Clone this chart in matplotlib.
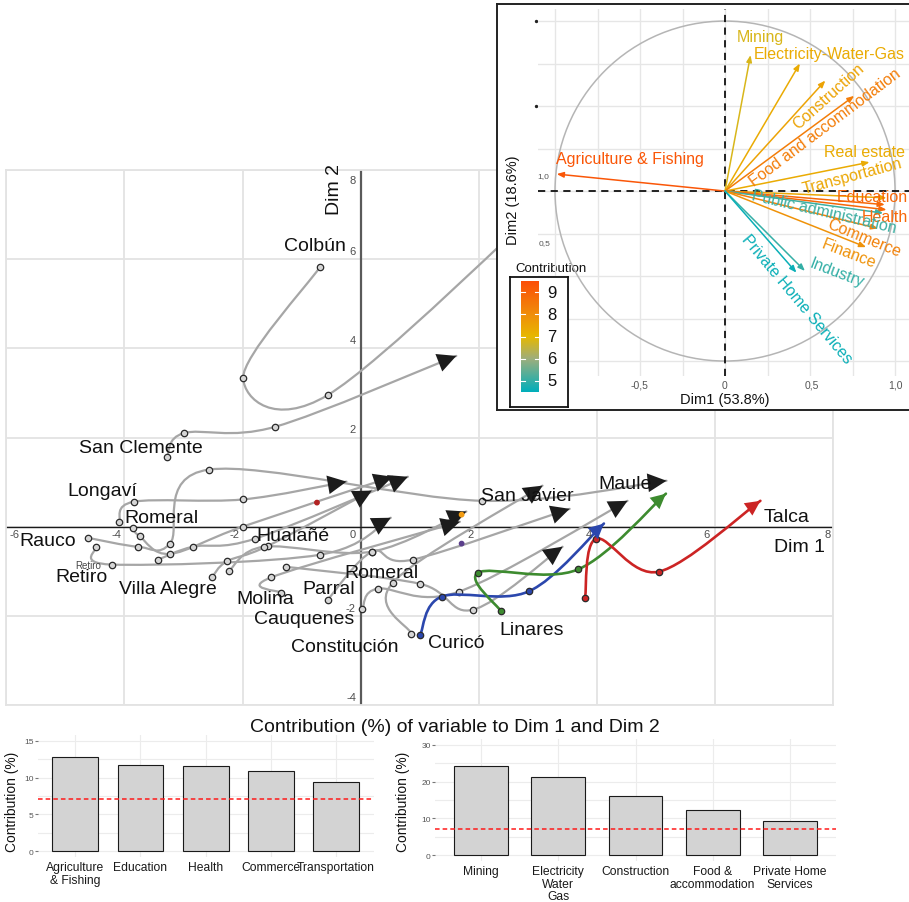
import numpy as np
import matplotlib
matplotlib.use('Agg')
import matplotlib.pyplot as plt
from matplotlib.path import Path
from matplotlib.patches import PathPatch, Circle
from matplotlib.colors import LinearSegmentedColormap, Normalize

plt.rcParams['font.family'] = ['Liberation Sans', 'DejaVu Sans']

# ---------------- data: municipal trajectories (Dim1, Dim2) ----------------
colbun_x = [-0.69, -1.99, -0.56, 3.40]
colbun_y = [5.82, 3.33, 2.95, 7.60]
san_clemente_x = [-3.28, -2.99, -1.45, 1.62]
san_clemente_y = [1.57, 2.10, 2.24, 3.83]
longavi_x = [-4.09, -3.84, -2.00, -0.24]
longavi_y = [0.11, 0.56, 0.61, 1.01]
rauco_x = [-4.62, -3.77, -3.23, -2.57, 2.06, 5.18]
rauco_y = [-0.25, -0.45, -0.38, 1.28, 0.58, 1.03]
retiro_x = [-4.48, -4.21, -0.69, 0.51]
retiro_y = [-0.45, -0.85, -0.63, 0.20]
romeral_n_x = [-3.86, -3.74, -3.23, -2.00, 0.54]
romeral_n_y = [-0.04, -0.22, -0.61, 0.00, 1.12]
other_x = [-3.43, -2.84, -1.79, 0.80]
other_y = [-0.74, -0.45, -0.27, 1.12]
villa_alegre_x = [-2.52, -2.27, -1.57, 0.19]
villa_alegre_y = [-1.14, -0.78, -0.43, 0.81]
hualane_x = [-2.23, -1.64, 0.19, 1.79]
hualane_y = [-0.99, -0.45, -0.56, 0.34]
molina_x = [-1.35, -1.52, 1.68]
molina_y = [-1.48, -1.14, 0.11]
parral_x = [-0.56, 0.19, 0.88, 3.54]
parral_y = [-1.64, -0.56, -0.74, 0.40]
cauquenes_x = [0.03, 0.29, 1.66, 4.52]
cauquenes_y = [-1.84, -1.39, -1.46, 0.58]
romeral_s_x = [-1.27, 1.00, 1.91, 3.42]
romeral_s_y = [-0.90, -1.28, -1.86, -0.45]
constitucion_x = [0.86, 0.54, 3.08]
constitucion_y = [-2.40, -1.26, 0.92]

curico_x = [1.01, 1.37, 2.85, 4.12]
curico_y = [-2.42, -1.57, -1.45, 0.07]
linares_x = [2.38, 1.99, 3.68, 5.17]
linares_y = [-1.90, -1.03, -0.96, 0.74]
talca_x = [3.80, 3.99, 5.05, 6.77]
talca_y = [-1.59, -0.27, -1.01, 0.58]

extra_pts_x = [-0.74, 1.71, 1.71]
extra_pts_y = [0.54, 0.27, -0.38]
extra_pts_col = ['#b22222', '#f39c12', '#5b3f8c']

muni_labels = ['Colbún', 'San Clemente', 'Longaví', 'Romeral', 'Rauco', 'Retiro',
               'Villa Alegre', 'Hualañé', 'Molina', 'Parral', 'Cauquenes', 'Romeral',
               'Constitución', 'Curicó', 'Linares', 'San Javier', 'Maule', 'Talca']
muni_label_x = [-0.78, -3.72, -4.37, -3.37, -5.30, -4.72, -3.27, -1.15, -1.62, -0.54,
                -0.96, 0.36, -0.27, 1.62, 2.89, 2.83, 4.48, 7.22]
muni_label_y = [6.30, 1.77, 0.81, 0.20, -0.31, -1.12, -1.39, -0.20, -1.61, -1.39,
                -2.06, -1.03, -2.69, -2.60, -2.31, 0.70, 0.96, 0.22]

# ---------------- data: PCA variables ----------------
var_names = ['Agriculture & Fishing', 'Mining', 'Electricity-Water-Gas', 'Construction',
             'Food and accommodation', 'Real estate', 'Transportation', 'Education',
             'Health', 'Public administration', 'Commerce', 'Finance', 'Industry',
             'Private Home Services']
var_dim1 = [-0.99, 0.15, 0.44, 0.59, 0.76, 0.85, 0.95, 0.94, 0.95, 0.93, 0.90, 0.83, 0.47, 0.42]
var_dim2 = [0.10, 0.80, 0.75, 0.65, 0.56, 0.17, -0.04, -0.08, -0.11, -0.13, -0.22, -0.33, -0.47, -0.48]
var_contrib = [9.3, 6.8, 7.3, 7.5, 8.4, 7.3, 7.4, 8.9, 8.9, 5.1, 8.3, 7.9, 5.0, 4.6]
var_label_x = [-0.56, 0.21, 0.17, 0.61, 0.59, 0.82, 0.75, 0.865, 0.94, 0.58, 0.82, 0.73, 0.66, 0.42]
var_label_y = [0.19, 0.91, 0.81, 0.56, 0.38, 0.235, 0.09, -0.03, -0.15, -0.12, -0.27, -0.365, -0.48, -0.63]
var_label_rot = [0, 0, 0, 42, 37, 0, 15, 0, 0, -13, -22, -21, -21, -50]

# ---------------- data: contributions bar charts ----------------
dim1_vars = ['Agriculture\n& Fishing', 'Education', 'Health', 'Commerce', 'Transportation']
dim1_contrib = [12.8, 11.7, 11.6, 10.9, 9.4]
dim2_vars = ['Mining', 'Electricity\nWater\nGas', 'Construction', 'Food &\naccommodation',
             'Private Home\nServices']
dim2_contrib = [24.2, 21.3, 16.0, 12.2, 9.3]
expected_contrib = 100 / 14

W, H = 909, 903
fig = plt.figure(figsize=(W / 100, H / 100), dpi=100)


def px_rect(x0, y0, x1, y1):
    return [x0 / W, 1 - y1 / H, (x1 - x0) / W, (y1 - y0) / H]


def smooth(xs, ys):
    P = np.column_stack([xs, ys]).astype(float)
    n = len(P)
    verts = [P[0]]
    codes = [Path.MOVETO]
    c2 = P[0]
    for i in range(n - 1):
        p0 = P[i - 1] if i > 0 else P[i]
        p1, p2 = P[i], P[i + 1]
        p3 = P[i + 2] if i + 2 < n else P[i + 1]
        c1 = p1 + (p2 - p0) / 6
        c2 = p2 - (p3 - p1) / 6
        verts += [c1, c2, p2]
        codes += [Path.CURVE4] * 3
    return Path(verts, codes), c2


# ---------------- main plot ----------------
ax = fig.add_axes(px_rect(6.4, 171, 833, 706))
ax.set_xlim(-6, 8)
ax.set_ylim(-4, 8)
ax.set_xticks(np.arange(-6, 9, 2))
ax.set_yticks(np.arange(-4, 9, 2))
ax.tick_params(length=0, labelbottom=False, labelleft=False)
ax.grid(True, color='#e3e3e3', lw=1.3)
ax.set_axisbelow(True)
for s in ax.spines.values():
    s.set_color('#e3e3e3')
    s.set_linewidth(1.3)
ax.axvline(0, color='#5a5a5a', lw=1.6, zorder=1.5)
ax.axhline(0, color='#1a1a1a', lw=1.0, zorder=1.5)

for v in range(-6, 9, 2):
    off = 0.13 if v == -6 else (-0.09 if v == 8 else -0.14)
    ax.text(v + off, -0.17, str(v), ha='center', va='center', fontsize=8, color='#4d4d4d', zorder=7)
for v in [-4, -2, 2, 4, 6, 8]:
    off = -0.22 if v == 8 else 0.18
    ax.text(-0.08, v + off, str(v), ha='right', va='center', fontsize=8, color='#4d4d4d', zorder=7)

gray_traj = [(colbun_x, colbun_y), (san_clemente_x, san_clemente_y), (longavi_x, longavi_y),
             (rauco_x, rauco_y), (retiro_x, retiro_y), (romeral_n_x, romeral_n_y),
             (other_x, other_y), (villa_alegre_x, villa_alegre_y), (hualane_x, hualane_y),
             (molina_x, molina_y), (parral_x, parral_y), (cauquenes_x, cauquenes_y),
             (romeral_s_x, romeral_s_y), (constitucion_x, constitucion_y)]
color_traj = [(curico_x, curico_y, '#2b47ad'), (linares_x, linares_y, '#3d8b2f'),
              (talca_x, talca_y, '#cc2424')]


def draw_traj(xs, ys, col, lw, mfc, hs, z):
    path, c2 = smooth(xs, ys)
    ax.add_patch(PathPatch(path, fc='none', ec=col, lw=lw, zorder=z, capstyle='round'))
    end = (xs[-1], ys[-1])
    ax.annotate('', xy=end, xytext=(c2[0], c2[1]),
                arrowprops=dict(arrowstyle='-|>,head_length=0.9,head_width=0.45',
                                mutation_scale=hs, fc=mfc if mfc else col, ec='none', lw=0,
                                shrinkA=0, shrinkB=0), zorder=z + 2)
    ax.plot(xs[:-1], ys[:-1], 'o', ms=4.6, mfc=(col if mfc is None else '#d6d6d6'),
            mec='#2a2a2a', mew=0.9, zorder=z + 1)


for xs, ys in gray_traj:
    draw_traj(xs, ys, '#a6a6a6', 1.6, '#1c1c1c', 15, 2)
for xs, ys, c in color_traj:
    draw_traj(xs, ys, c, 1.9, None, 12, 4)

ax.scatter(extra_pts_x, extra_pts_y, s=10, c=extra_pts_col, zorder=5)

for t, x, y in zip(muni_labels, muni_label_x, muni_label_y):
    ax.text(x, y, t, ha='center', va='center', fontsize=14, color='#111111', zorder=8)
ax.text(-4.62, -0.87, 'Retiro', ha='center', va='center', fontsize=7, color='#444444', zorder=8)
ax.text(7.43, -0.45, 'Dim 1', ha='center', va='center', fontsize=14, color='#111111')
ax.text(-0.44, 7.58, 'Dim 2', ha='center', va='center', fontsize=14, color='#111111', rotation=90)

# ---------------- inset: variables circle ----------------
box = fig.add_axes(px_rect(497, 5, 909, 411))
box.set_xlim(497, 909)
box.set_ylim(411, 5)
box.set_xticks([])
box.set_yticks([])
box.set_facecolor('white')
for k, s in box.spines.items():
    s.set_color('#222222')
    s.set_linewidth(1.4)
box.spines['right'].set_visible(False)
box.text(543, 177, '1,0', ha='center', va='center', fontsize=6, color='#555555')
box.text(545, 244, '0,5', ha='center', va='center', fontsize=6, color='#555555')
box.plot([536, 536], [22, 107], 'o', ms=1.4, color='#222222')
for lab, xp in zip(['-0,5', '0', '0,5', '1,0'], [639, 725, 812, 895]):
    box.text(xp, 386, lab, ha='center', va='center', fontsize=7.5, color='#555555')
box.text(725, 400, 'Dim1 (53.8%)', ha='center', va='center', fontsize=10.5, color='#111111')
box.text(513, 200, 'Dim2 (18.6%)', ha='center', va='center', fontsize=10.5, color='#111111',
         rotation=90)
box.text(551, 269, 'Contribution', ha='center', va='center', fontsize=9.5, color='#111111')

inax = fig.add_axes(px_rect(538, 10, 909, 377))
inax.set_facecolor('none')
inax.set_xlim(-1.1, 1.082)
inax.set_ylim(-1.088, 1.071)
inax.set_xticks([])
inax.set_yticks([])
for s in inax.spines.values():
    s.set_visible(False)
for g in np.arange(-1.0, 1.01, 0.25):
    inax.axvline(g, color='#e6e6e6', lw=1.0, zorder=0)
    inax.axhline(g, color='#e6e6e6', lw=1.0, zorder=0)
inax.add_patch(Circle((0, 0), 1, fill=False, ec='#b5b5b5', lw=1.1, zorder=1))
inax.axhline(0, color='#111111', lw=1.3, ls=(0, (4, 3)), zorder=2)
inax.axvline(0, color='#111111', lw=1.3, ls=(0, (4, 3)), zorder=2)

cmap = LinearSegmentedColormap.from_list(
    'contrib', [(0.0, '#00AFBB'), (0.3, '#9EAE7C'), (0.5, '#E7B800'),
                (0.7, '#F08E0A'), (1.0, '#FC4E07')])
norm = Normalize(vmin=4.5, vmax=9.5)
for x, y, c, name, lx, ly, rot in zip(var_dim1, var_dim2, var_contrib, var_names,
                                       var_label_x, var_label_y, var_label_rot):
    col = cmap(norm(c))
    inax.annotate('', xy=(x, y), xytext=(0, 0),
                  arrowprops=dict(arrowstyle='-|>,head_length=0.5,head_width=0.2',
                                  mutation_scale=8, color=col, lw=1.1, shrinkA=0, shrinkB=0),
                  zorder=3)
    ha = 'left' if name == 'Electricity-Water-Gas' else 'center'
    inax.text(lx, ly, name, ha=ha, va='center', fontsize=11.5, color=col, rotation=rot,
              rotation_mode='anchor', zorder=4, clip_on=False)

legax = fig.add_axes(px_rect(510, 278, 568, 408))
legax.set_xticks([])
legax.set_yticks([])
legax.set_facecolor('white')
for s in legax.spines.values():
    s.set_color('#111111')
    s.set_linewidth(1.3)

cax = fig.add_axes(px_rect(521, 282, 539, 393))
grad = np.linspace(norm.vmin, norm.vmax, 256).reshape(-1, 1)
cax.imshow(grad, cmap=cmap, norm=norm, aspect='auto', origin='lower',
           extent=[0, 1, norm.vmin, norm.vmax])
cax.set_xticks([])
cax.set_yticks([])
for s in cax.spines.values():
    s.set_visible(False)
for v in [5, 6, 7, 8, 9]:
    cax.plot([0, 0.2], [v, v], color='white', lw=0.8)
    cax.plot([0.8, 1], [v, v], color='white', lw=0.8)
    cax.text(1.45, v, str(v), ha='left', va='center', fontsize=12, color='#111111',
             clip_on=False)
cax.set_xlim(0, 1)
cax.set_ylim(norm.vmin, norm.vmax)

# ---------------- bottom bar charts ----------------
fig.text(455 / W, 1 - 728 / H, 'Contribution (%) of variable to Dim 1 and Dim 2',
         ha='center', va='center', fontsize=14, color='#111111')


def bar_panel(rect, cats, vals, ylim, yticks, xlim, minor):
    b = fig.add_axes(rect)
    pos = np.arange(len(cats))
    b.bar(pos, vals, width=0.7, color='#d3d3d3', edgecolor='#1a1a1a', lw=0.8, zorder=2)
    b.axhline(expected_contrib, color='#ff1a1a', lw=1.1, ls=(0, (3, 2)), zorder=3)
    b.set_xlim(*xlim)
    b.set_ylim(*ylim)
    b.set_yticks(yticks)
    b.set_yticks(minor, minor=True)
    b.set_xticks(pos)
    b.set_xticklabels(cats, fontsize=8.7, color='#1a1a1a', linespacing=1.05)
    b.tick_params(axis='y', labelsize=6, labelcolor='#555555', length=2, color='#777777', pad=1)
    b.tick_params(axis='y', which='minor', length=0)
    b.tick_params(axis='x', length=0, pad=3)
    b.grid(True, which='both', color='#ececec', lw=0.8, zorder=0)
    b.set_axisbelow(True)
    for s in b.spines.values():
        s.set_visible(False)
    return b


bar_panel(px_rect(38, 736, 374, 858), dim1_vars, dim1_contrib, (-0.8, 15.8),
          [0, 5, 10, 15], (-0.57, 4.58), [2.5, 7.5, 12.5])
bar_panel(px_rect(435, 740, 836, 862), dim2_vars, dim2_contrib, (-1.6, 31.6),
          [0, 10, 20, 30], (-0.6, 4.6), [5, 15, 25])
fig.text(12 / W, 1 - 802 / H, 'Contribution (%)', rotation=90, ha='center', va='center',
         fontsize=9.9, color='#111111')
fig.text(403 / W, 1 - 802 / H, 'Contribution (%)', rotation=90, ha='center', va='center',
         fontsize=9.9, color='#111111')

fig.savefig('out.png', dpi=100, facecolor='white')
